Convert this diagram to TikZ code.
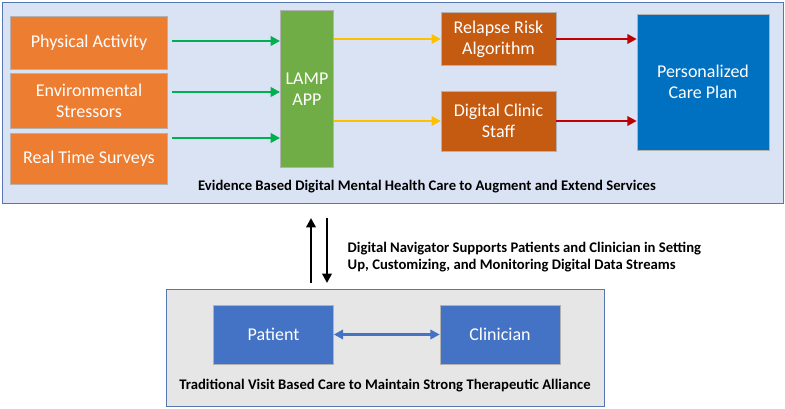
\documentclass[tikz,border=0pt]{standalone}
\usepackage{fontspec}
\setmainfont{Carlito}
\usetikzlibrary{arrows.meta}
\definecolor{panelblue}{HTML}{DAE3F3}
\definecolor{panelgray}{HTML}{E7E6E6}
\definecolor{boxorange}{HTML}{ED7D31}
\definecolor{boxgreen}{HTML}{70AD47}
\definecolor{boxbrown}{HTML}{C55A11}
\definecolor{boxblue}{HTML}{0070C0}
\definecolor{boxsteel}{HTML}{4472C4}
\definecolor{arrgreen}{HTML}{00B050}
\definecolor{arryellow}{HTML}{FFC000}
\definecolor{arrred}{HTML}{C00000}
\tikzset{
  box/.style={draw=white!70!black,thin,text=white,align=center,font=\fontsize{13.5}{16}\selectfont},
  caption/.style={font=\bfseries\fontsize{11}{13}\selectfont},
  flow/.style={-{Triangle[length=7pt,width=7pt]},line width=2pt}
}
\begin{document}
\begin{tikzpicture}[x=0.75pt,y=-0.75pt]
\useasboundingbox (0,0) rectangle (785,409);
% panels
\draw[fill=panelblue,draw=boxsteel!70!gray] (2,2) rectangle (783,203);
\draw[fill=panelgray,draw=boxsteel!70!gray] (166,289) rectangle (604,406);
% inputs
\node[box,fill=boxorange,minimum width=118pt,minimum height=40pt] (phys) at (89,43) {Physical Activity};
\node[box,fill=boxorange,minimum width=118pt,minimum height=41pt] (env) at (89,100.5) {Environmental\\Stressors};
\node[box,fill=boxorange,minimum width=118pt,minimum height=38pt] (surv) at (89,158.5) {Real Time Surveys};
\node[box,fill=boxgreen,minimum width=40pt,minimum height=118pt] (lamp) at (307,89) {LAMP\\APP};
\node[box,fill=boxbrown,minimum width=86pt,minimum height=40pt] (risk) at (498.5,39) {Relapse Risk\\Algorithm};
\node[box,fill=boxbrown,minimum width=86pt,minimum height=45pt] (staff) at (498.5,121) {Digital Clinic\\Staff};
\node[box,fill=boxblue,minimum width=99pt,minimum height=102pt] (plan) at (703,82) {Personalized\\Care Plan};
\node[caption] (top) at (427,187) {Evidence Based Digital Mental Health Care to Augment and Extend Services};
%-------------
\node[box,fill=boxsteel,minimum width=90pt,minimum height=44pt] (pat) at (273.5,334.5) {Patient};
\node[box,fill=boxsteel,minimum width=90pt,minimum height=44pt] (clin) at (500,334.5) {Clinician};
\node[caption] (bot) at (385,386) {Traditional Visit Based Care to Maintain Strong Therapeutic Alliance};
\node[caption,align=left,anchor=west] (nav) at (343,257) {Digital Navigator Supports Patients and Clinician in Setting\\Up, Customizing, and Monitoring Digital Data Streams};
%-------------
\coordinate (up0) at (311,283); \coordinate (up1) at (311,218);
\coordinate (dn0) at (327,218); \coordinate (dn1) at (327,283);
\foreach \y in {41,92,138}
\draw[flow,arrgreen] (172,\y) -- (lamp.west |- 0,\y);
\foreach \from/\to in {risk,staff}
\draw[flow,arryellow] (lamp.east |- \to) -- (\to);
\foreach \from in {risk,staff}
\draw[flow,arrred] (\from) -- (plan.west |- \from);
\draw[flow,black] (up0) -- (up1);
\draw[flow,black] (dn0) -- (dn1);
\draw[{Triangle[length=7pt,width=7pt]}-{Triangle[length=7pt,width=7pt]},line width=2pt,boxsteel] (pat) -- (clin);
\end{tikzpicture}
\end{document}
